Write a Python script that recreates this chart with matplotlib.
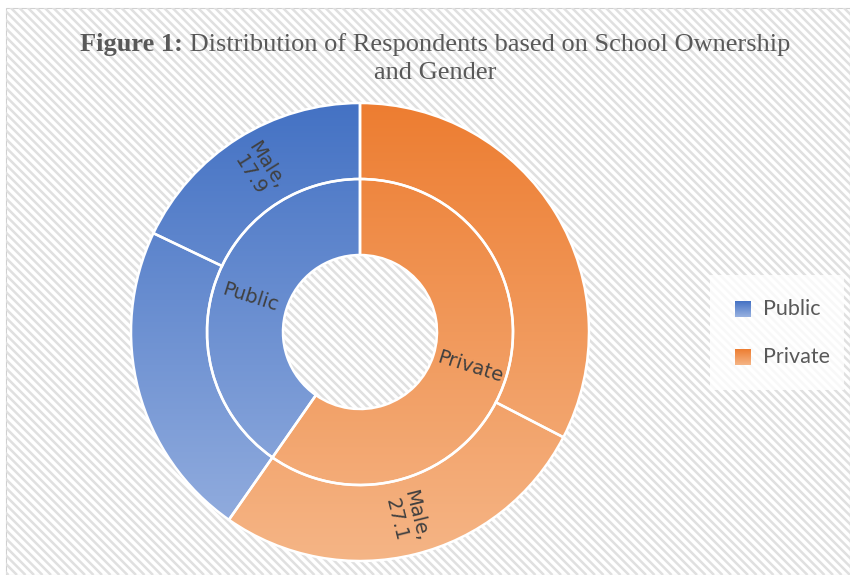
"""Sunburst of respondents by school ownership and gender."""
import numpy as np
import matplotlib
matplotlib.use("Agg")
import matplotlib.pyplot as plt
from matplotlib.patches import Wedge, Rectangle
from matplotlib.colors import to_rgb

# data (clockwise from 12 o'clock, as drawn)
owners = ["Private", "Public"]
owner_values = [59.7, 40.3]
gender_names = ["Female", "Male", "Female", "Male"]
gender_owner = ["Private", "Private", "Public", "Public"]
gender_values = [32.6, 27.1, 22.4, 17.9]
gender_shown = [False, True, False, True]
legend_names = ["Public", "Private"]

W, H = 850, 575
def Y(y): return H - y          # image row -> axis y (y up)

CX, CY = 360, Y(332)
R_OUT, R_MID, R_IN = 229, 153, 77
GRAD = {"Public": ("#4472C4", "#98B1E0"), "Private": ("#ED7D31", "#F5B586")}
TXT = "#404040"

fig = plt.figure(figsize=(W/100, H/100), dpi=100, facecolor="white")
ax = fig.add_axes([0, 0, 1, 1])
ax.set_xlim(0, W); ax.set_ylim(0, H); ax.axis("off")

# striped chart area
area = Rectangle((6, 0), W-6, Y(8), facecolor="white", edgecolor="#d0d0d0", lw=0.8, zorder=0)
ax.add_patch(area)
for x0 in np.arange(-H, W+H, 8.5):
    ln, = ax.plot([x0, x0+H], [H, 0], color="#e0e0e0", lw=1.8, zorder=0.5, solid_capstyle="butt")
    ln.set_clip_path(area)

def grad_img(top, bot, n=256):
    a, b = np.array(to_rgb(top)), np.array(to_rgb(bot))
    t = np.linspace(0, 1, n)[:, None]
    return (a*(1-t) + b*t)[:, None, :]

def fill(patch, owner, y0=103, y1=562):
    ax.add_patch(patch)
    im = ax.imshow(grad_img(*GRAD[owner]), extent=(CX-R_OUT, CX+R_OUT, Y(y1), Y(y0)),
                   aspect="auto", origin="upper", zorder=1, interpolation="bilinear")
    im.set_clip_path(patch)

def ring(values, groups, r, width):
    out, start = [], 90.0
    for v, g in zip(values, groups):
        span = v/100*360
        w = Wedge((CX, CY), r, start-span, start, width=width,
                  facecolor="none", edgecolor="white", lw=1.8, zorder=2)
        fill(w, g)
        out.append((start-span/2) % 360)
        start -= span
    return out

mid_in = ring(owner_values, owners, R_MID, R_MID-R_IN)
mid_out = ring(gender_values, gender_owner, R_OUT, R_OUT-R_MID)

# radial labels: reading outward on the right, inward on the left
def radial_rot(th):
    a = th if -90 <= ((th+180) % 360)-180 <= 90 else th-180
    return (a+180) % 360-180

rr = (R_MID+R_IN)/2
for name, th in zip(owners, mid_in):
    t = np.radians(th)
    ax.text(CX+rr*np.cos(t), CY+rr*np.sin(t), name, rotation=radial_rot(th),
            ha="center", va="center", fontsize=14, color=TXT, zorder=3, rotation_mode="anchor")

rr = (R_OUT+R_MID)/2
for name, v, th, show in zip(gender_names, gender_values, mid_out, gender_shown):
    if not show:
        continue
    t = np.radians(th)
    ax.text(CX+rr*np.cos(t), CY+rr*np.sin(t), f"{name},\n{v}", rotation=radial_rot(th),
            ha="center", va="center", fontsize=14, color=TXT, zorder=3, linespacing=1.05,
            rotation_mode="anchor", multialignment="center")

# legend
ax.add_patch(Rectangle((710, Y(390)), 134, 115, facecolor="white", alpha=0.8, edgecolor="none", zorder=2))
for i, name in enumerate(legend_names):
    yc = 309 + 48*i
    sq = Rectangle((735, Y(yc+8)), 16, 16, facecolor="none", edgecolor="none", zorder=3)
    ax.add_patch(sq)
    im = ax.imshow(grad_img(GRAD[name][0], GRAD[name][1]), extent=(735, 751, Y(yc+8), Y(yc-8)),
                   aspect="auto", origin="upper", zorder=3)
    im.set_clip_path(sq)
    ax.text(763, Y(yc), name, fontsize=15.5, family="Lato", color="#595959", va="center", zorder=4)

# title, bold prefix + regular rest
tkw = dict(fontsize=19, family="Liberation Serif", color="#595959", va="center", zorder=4)
r = fig.canvas.get_renderer()
t1 = ax.text(0, Y(45), "Figure 1:", fontweight="bold", **tkw)
t2 = ax.text(0, Y(45), " Distribution of Respondents based on School Ownership", **tkw)
w1 = t1.get_window_extent(r).width; w2 = t2.get_window_extent(r).width
x0 = 435 - (w1+w2)/2
t1.set_x(x0); t2.set_x(x0+w1)
ax.text(435, Y(73), "and Gender", ha="center", **tkw)

fig.savefig("out.png", dpi=100, facecolor="white")
